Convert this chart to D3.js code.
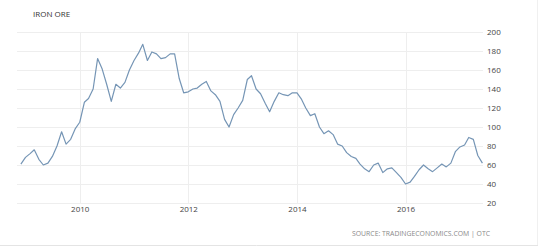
<!DOCTYPE html>
<html>
<head>
<meta charset="utf-8">
<script src="https://cdn.jsdelivr.net/npm/d3@7"></script>
<style>
html,body{margin:0;padding:0;background:#fff;}
svg{display:block;font-family:"Open Sans","Liberation Sans",Arial,sans-serif;}
</style>
</head>
<body>
<svg id="chart" width="550" height="249"></svg>
<script>
const title = "IRON ORE";
const source = "SOURCE: TRADINGECONOMICS.COM | OTC";
const startMonth = [2008, 11]; // Dec 2008 (month index 11)
const values = [
  61, 68, 72, 76, 66, 60, 62, 69, 80, 95, 82, 87, 98,   // Dec08 - Dec09
  105, 126, 130, 140, 172, 161, 145, 127, 145, 141, 147, 160, // 2010
  170, 178, 187, 170, 179, 177, 172, 173, 177, 177, 151, 136, // 2011
  137, 140, 141, 145, 148, 138, 134, 127, 108, 100, 113, 120, // 2012
  128, 150, 154, 140, 135, 125, 116, 127, 136, 134, 133, 136, // 2013
  136, 129, 120, 112, 114, 100, 93, 96, 92, 82, 80, 73,       // 2014
  69, 67, 61, 56, 53, 60, 62, 52, 56, 57, 52, 47,             // 2015
  40, 42, 48, 55, 60, 56, 53, 57, 61, 58, 62, 74,             // 2016
  79, 81, 89, 87, 70, 62                                      // 2017
];
const yTicks = [20, 40, 60, 80, 100, 120, 140, 160, 180, 200];
const xTickYears = [2010, 2012, 2014, 2016];

const data = values.map((v, i) => ({
  date: new Date(startMonth[0], startMonth[1] + i, 1),
  value: v
}));

const svg = d3.select("#chart");
const mLeft = 17, mRight = 483, mTop = 32, mBottom = 203;

// card edges (right and bottom, faint)
svg.append("line").attr("x1", 537.5).attr("x2", 537.5).attr("y1", 0).attr("y2", 246)
  .attr("stroke", "#f0f0f0");
svg.append("line").attr("x1", 0).attr("x2", 538).attr("y1", 245.5).attr("y2", 245.5)
  .attr("stroke", "#e4e4e4");

const x = d3.scaleTime()
  .domain([new Date(2008, 10, 5), new Date(2017, 5, 5)])
  .range([mLeft, mRight]);
const y = d3.scaleLinear().domain([20, 200]).range([mBottom, mTop]);

// horizontal grid
svg.append("g").selectAll("line").data(yTicks).join("line")
  .attr("x1", mLeft).attr("x2", mRight)
  .attr("y1", d => Math.round(y(d)) + 0.5).attr("y2", d => Math.round(y(d)) + 0.5)
  .attr("stroke", "#eeeeee").attr("stroke-width", 1);

// vertical grid
svg.append("g").selectAll("line").data(xTickYears).join("line")
  .attr("x1", d => Math.round(x(new Date(d, 0, 1))) + 0.5)
  .attr("x2", d => Math.round(x(new Date(d, 0, 1))) + 0.5)
  .attr("y1", mTop).attr("y2", mBottom)
  .attr("stroke", "#eeeeee").attr("stroke-width", 1);

// y axis labels (right)
const yAxis = d3.axisRight(y).tickValues(yTicks).tickSize(0).tickPadding(0);
const gy = svg.append("g").attr("transform", `translate(${mRight + 4},0)`).call(yAxis);
gy.select(".domain").remove();
gy.selectAll("text").attr("font-size", 8).attr("fill", "#444")
  .attr("font-family", "'Open Sans','Liberation Sans',sans-serif");

// x axis labels
const xAxis = d3.axisBottom(x).tickValues(xTickYears.map(yr => new Date(yr, 0, 1)))
  .tickFormat(d3.timeFormat("%Y")).tickSize(0).tickPadding(0);
const gx = svg.append("g").attr("transform", `translate(0,${mBottom + 3})`).call(xAxis);
gx.select(".domain").remove();
gx.selectAll("text").attr("font-size", 8).attr("fill", "#444")
  .attr("font-family", "'Open Sans','Liberation Sans',sans-serif");

// line
const line = d3.line().x(d => x(d.date)).y(d => y(d.value));
svg.append("path").datum(data)
  .attr("d", line)
  .attr("fill", "none")
  .attr("stroke", "#7595b5")
  .attr("stroke-width", 1.2)
  .attr("stroke-linejoin", "round");

// title
svg.append("text").attr("x", 33).attr("y", 17).text(title)
  .attr("font-size", 8).attr("fill", "#333").attr("font-weight", 500);

// source
svg.append("text").attr("x", 490).attr("y", 236).attr("text-anchor", "end")
  .text(source).attr("font-size", 7.2).attr("fill", "#8a8a8a")
  .attr("textLength", 138).attr("lengthAdjust", "spacingAndGlyphs");
</script>
</body>
</html>
